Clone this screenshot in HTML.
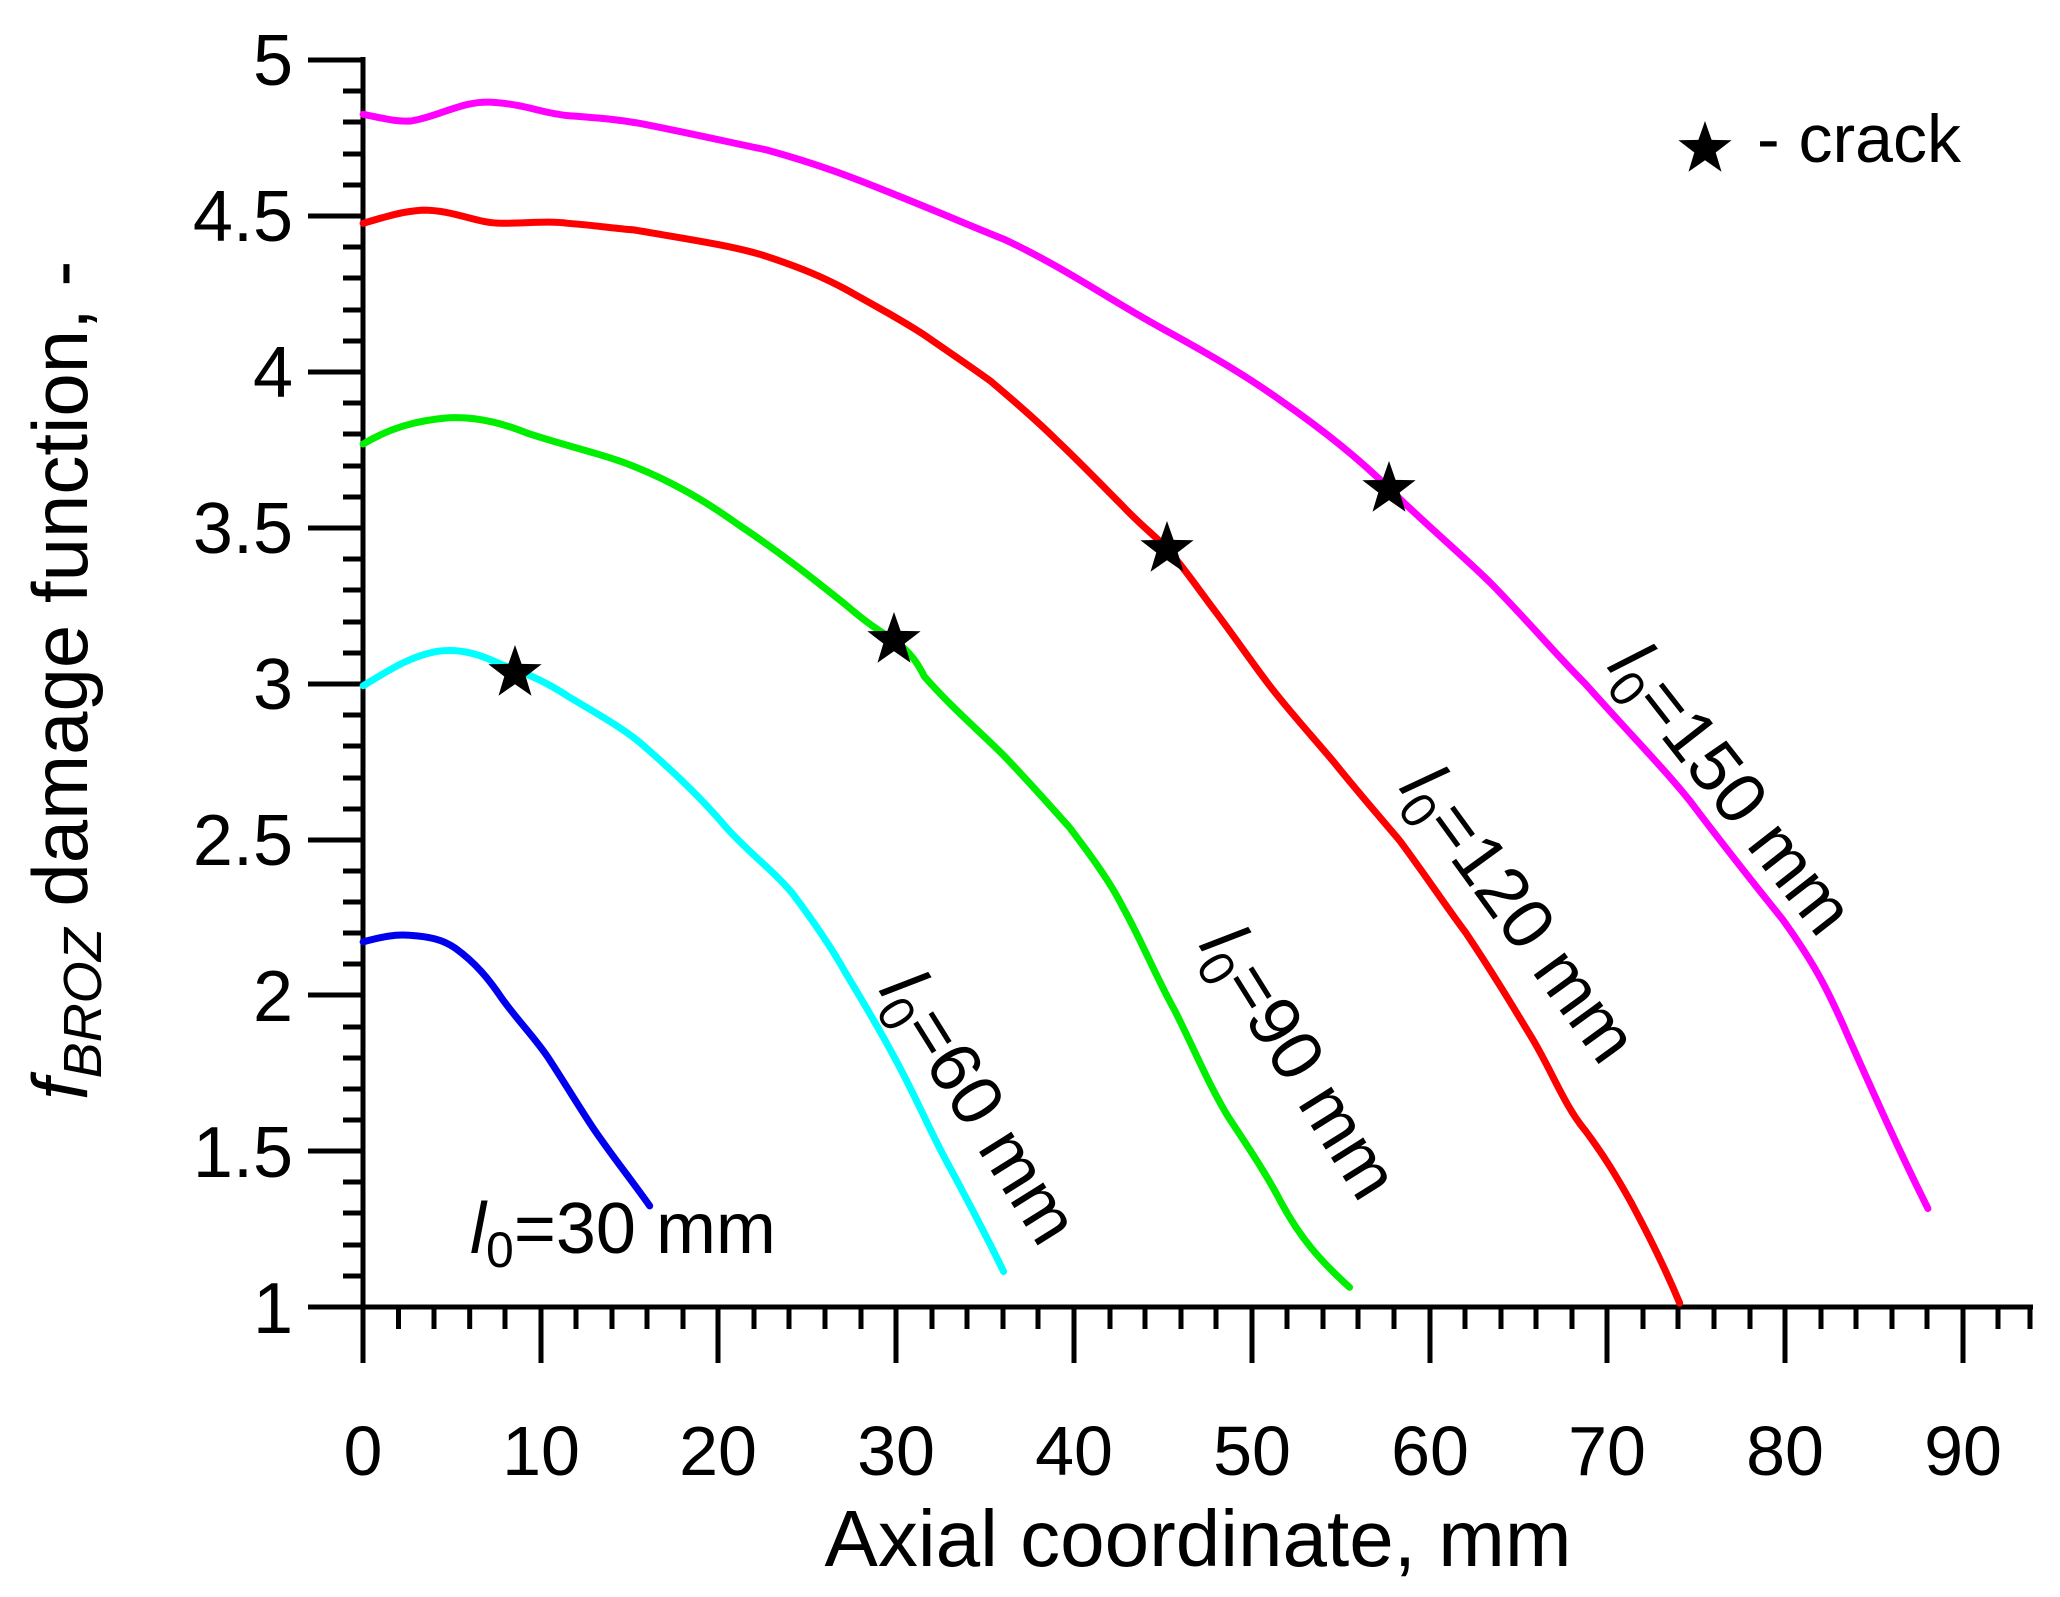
<!DOCTYPE html>
<html><head><meta charset="utf-8"><style>
html,body{margin:0;padding:0;background:#fff;}
svg{display:block;}
text{font-family:"Liberation Sans",Arial,sans-serif;fill:#000;}
</style></head><body>
<svg width="2060" height="1597" viewBox="0 0 2060 1597" xmlns="http://www.w3.org/2000/svg">
<g stroke="#000" stroke-width="5" fill="none">
<line x1="363" y1="57" x2="363" y2="1310"/>
<line x1="308" y1="1307" x2="2033" y2="1307"/>
<path d="M308 60H363M308 216H363M308 372H363M308 528H363M308 684H363M308 840H363M308 995H363M308 1151H363"/>
<path d="M343 91H363M343 122H363M343 154H363M343 185H363M343 247H363M343 278H363M343 310H363M343 341H363M343 403H363M343 434H363M343 466H363M343 497H363M343 559H363M343 590H363M343 622H363M343 653H363M343 715H363M343 746H363M343 778H363M343 809H363M343 871H363M343 902H363M343 933H363M343 964H363M343 1027H363M343 1058H363M343 1089H363M343 1120H363M343 1182H363M343 1213H363M343 1245H363M343 1276H363"/>
<path d="M363 1307V1363M541 1307V1363M718 1307V1363M896 1307V1363M1074 1307V1363M1252 1307V1363M1430 1307V1363M1607 1307V1363M1785 1307V1363M1963 1307V1363"/>
<path d="M398.5 1307v22M434 1307v22M469.7 1307v22M505 1307v22M576 1307v22M612 1307v22M647 1307v22M683 1307v22M754 1307v22M789 1307v22M825 1307v22M861 1307v22M932 1307v22M967 1307v22M1003 1307v22M1038 1307v22M1110 1307v22M1145 1307v22M1181 1307v22M1216 1307v22M1287 1307v22M1323 1307v22M1358 1307v22M1394 1307v22M1465 1307v22M1501 1307v22M1536 1307v22M1572 1307v22M1643 1307v22M1678 1307v22M1714 1307v22M1750 1307v22M1821 1307v22M1856 1307v22M1892 1307v22M1927 1307v22M1998 1307v22M2030 1307v22"/>
</g>
<g font-size="72" text-anchor="end">
<text x="293" y="85">5</text><text x="293" y="241">4.5</text><text x="293" y="397">4</text><text x="293" y="553">3.5</text><text x="293" y="709">3</text><text x="293" y="865">2.5</text><text x="293" y="1021">2</text><text x="293" y="1177">1.5</text><text x="293" y="1333">1</text>
</g>
<g font-size="70" text-anchor="middle">
<text x="363" y="1475">0</text><text x="541" y="1475">10</text><text x="718" y="1475">20</text><text x="896" y="1475">30</text><text x="1074" y="1475">40</text><text x="1252" y="1475">50</text><text x="1430" y="1475">60</text><text x="1607" y="1475">70</text><text x="1785" y="1475">80</text><text x="1963" y="1475">90</text>
</g>
<text x="1198" y="1566" font-size="80" text-anchor="middle">Axial coordinate, mm</text>
<text transform="translate(87,1100) rotate(-90)" font-size="78"><tspan font-style="italic">f</tspan><tspan font-style="italic" font-size="54" dy="14">BROZ</tspan><tspan dy="-14"> damage function, -</tspan></text>
<g fill="none" stroke-width="7" stroke-linecap="round" stroke-linejoin="round">
<g transform="scale(1.3205,1.3136)">
<path vector-effect="non-scaling-stroke" stroke="#ff00ff" d="M275 87C290 90 300 93 312 92C335 88 350 76 375 78C400 80 410 86 430 88C455 90 470 91 490 95C530 103 560 110 580 114C620 125 645 135 670 145C710 161 735 172 760 182C805 203 840 228 880 250C920 272 945 287 970 305C1000 326 1030 350 1052 372C1085 404 1110 425 1130 445C1160 476 1180 500 1200 520C1240 565 1260 585 1280 610C1310 650 1330 675 1350 700C1375 735 1385 755 1400 790C1420 835 1440 880 1460 920"/>
<path vector-effect="non-scaling-stroke" stroke="#ff0000" d="M275 170C295 164 305 161 320 160C345 160 360 170 380 170C400 170 415 168 430 170C455 172 465 174 480 175C520 182 555 187 580 195C610 205 625 212 640 220C665 234 685 245 700 255C720 269 735 279 750 290C770 307 785 320 800 335C820 354 835 370 850 385C865 401 875 408 884 418C895 430 905 445 920 465C935 485 945 500 960 520C975 540 995 562 1010 580C1030 605 1045 622 1060 640C1080 667 1095 690 1110 710C1130 740 1145 765 1160 790C1175 815 1185 842 1200 860C1215 880 1225 897 1235 915C1250 943 1262 968 1272 992"/>
<path vector-effect="non-scaling-stroke" stroke="#00ee00" d="M275 338C295 326 315 320 340 318C365 317 385 324 400 330C430 340 455 345 480 355C510 367 535 382 560 400C590 420 615 440 640 460C655 473 665 480 677 487C690 497 695 505 700 515C720 538 740 555 760 575C780 596 795 613 810 630C825 650 840 670 850 690C865 717 875 743 890 770C905 800 915 825 930 850C945 873 958 892 970 915C985 943 1000 960 1022 980"/>
<path vector-effect="non-scaling-stroke" stroke="#00ffff" d="M275 522C295 510 310 500 330 496C350 493 365 499 380 506C400 513 415 520 430 530C455 545 475 556 490 570C515 592 535 612 550 630C570 652 585 662 600 680C615 700 630 722 640 740C655 765 668 787 680 810C695 838 706 865 720 890C735 918 748 943 760 968"/>
<path vector-effect="non-scaling-stroke" stroke="#0000ee" d="M275 717C290 713 300 711 310 712C325 713 335 715 345 722C360 733 370 745 380 760C393 778 405 790 415 805C428 825 440 845 450 860C465 882 478 898 492 918"/>
</g>
</g>
<g fill="#000">
<path d="M0 -28L6.6 -9.1L26.6 -8.7L10.7 3.5L16.5 22.7L0 11.2L-16.5 22.7L-10.7 3.5L-26.6 -8.7L-6.6 -9.1Z" transform="translate(515,673)"/>
<path d="M0 -28L6.6 -9.1L26.6 -8.7L10.7 3.5L16.5 22.7L0 11.2L-16.5 22.7L-10.7 3.5L-26.6 -8.7L-6.6 -9.1Z" transform="translate(894,640)"/>
<path d="M0 -28L6.6 -9.1L26.6 -8.7L10.7 3.5L16.5 22.7L0 11.2L-16.5 22.7L-10.7 3.5L-26.6 -8.7L-6.6 -9.1Z" transform="translate(1167,549)"/>
<path d="M0 -28L6.6 -9.1L26.6 -8.7L10.7 3.5L16.5 22.7L0 11.2L-16.5 22.7L-10.7 3.5L-26.6 -8.7L-6.6 -9.1Z" transform="translate(1389,489)"/>
<path d="M0 -28L6.6 -9.1L26.6 -8.7L10.7 3.5L16.5 22.7L0 11.2L-16.5 22.7L-10.7 3.5L-26.6 -8.7L-6.6 -9.1Z" transform="translate(1705,149)"/>
</g>
<text x="1757" y="162" font-size="68">- crack</text>
<g font-size="72">
<text x="470" y="1253"><tspan font-style="italic">l</tspan><tspan font-size="50" dy="14">0</tspan><tspan dy="-14">=30 mm</tspan></text>
<text transform="translate(878,990) rotate(58)"><tspan font-style="italic">l</tspan><tspan font-size="50" dy="14">0</tspan><tspan dy="-14">=60 mm</tspan></text>
<text transform="translate(1198,945) rotate(58)"><tspan font-style="italic">l</tspan><tspan font-size="50" dy="14">0</tspan><tspan dy="-14">=90 mm</tspan></text>
<text transform="translate(1398,788) rotate(54)"><tspan font-style="italic">l</tspan><tspan font-size="50" dy="14">0</tspan><tspan dy="-14">=120 mm</tspan></text>
<text transform="translate(1606,667) rotate(52)"><tspan font-style="italic">l</tspan><tspan font-size="50" dy="14">0</tspan><tspan dy="-14">=150 mm</tspan></text>
</g>
</svg>
</body></html>
